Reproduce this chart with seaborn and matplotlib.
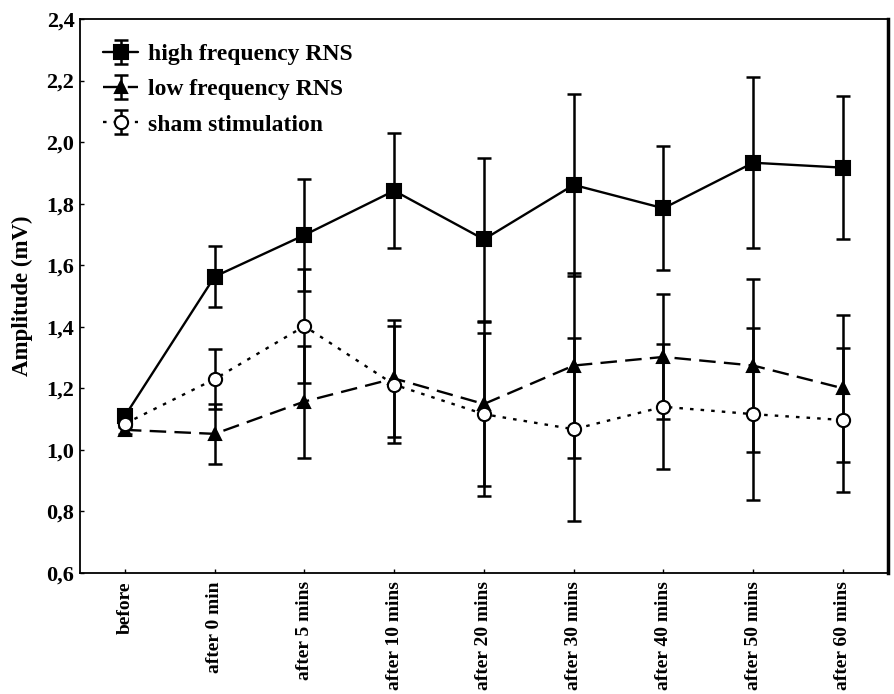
import matplotlib

matplotlib.use("Agg")
import matplotlib.pyplot as plt
import numpy as np
import pandas as pd
import seaborn as sns
from matplotlib.ticker import FuncFormatter

sns.set_style("ticks")
plt.rcParams["font.family"] = ["Liberation Serif", "DejaVu Serif"]
plt.rcParams["font.weight"] = "bold"
plt.rcParams["text.color"] = "black"
plt.rcParams["axes.labelcolor"] = "black"
plt.rcParams["xtick.color"] = "black"
plt.rcParams["ytick.color"] = "black"

timepoints = [
    "before",
    "after 0 min",
    "after 5 mins",
    "after 10 mins",
    "after 20 mins",
    "after 30 mins",
    "after 40 mins",
    "after 50 mins",
    "after 60 mins",
]
groups = ["high frequency RNS", "low frequency RNS", "sham stimulation"]

high_mean = [1.11, 1.563, 1.698, 1.842, 1.684, 1.861, 1.785, 1.933, 1.917]
high_err = [0.015, 0.098, 0.183, 0.186, 0.265, 0.295, 0.202, 0.277, 0.233]
low_mean = [1.065, 1.052, 1.157, 1.232, 1.149, 1.274, 1.302, 1.274, 1.200]
low_err = [0.012, 0.098, 0.182, 0.19, 0.268, 0.30, 0.203, 0.28, 0.238]
sham_mean = [1.085, 1.230, 1.402, 1.212, 1.116, 1.067, 1.140, 1.116, 1.097]
sham_err = [0.012, 0.098, 0.185, 0.19, 0.265, 0.297, 0.203, 0.279, 0.234]

df = pd.DataFrame(
    {
        "time": timepoints * 3,
        "group": np.repeat(groups, len(timepoints)),
        "amplitude": high_mean + low_mean + sham_mean,
        "err": high_err + low_err + sham_err,
    }
)
df["pos"] = df["time"].map({t: i for i, t in enumerate(timepoints)})

styles = {
    "high frequency RNS": dict(ls="-", marker="s", mfc="black", ms=9.5),
    "low frequency RNS": dict(ls=(0, (7, 3.5)), marker="^", mfc="black", ms=9),
    "sham stimulation": dict(ls=(0, (1.5, 3)), marker="o", mfc="white", ms=9.5),
}

fig = plt.figure(figsize=(8.95, 6.94), dpi=100)
ax = fig.add_axes([0.0894, 0.1744, 0.9026, 0.7982])

handles = []
for group in groups:
    sub = df[df["group"] == group]
    st = styles[group]
    sns.lineplot(
        data=sub,
        x="pos",
        y="amplitude",
        ax=ax,
        color="black",
        linewidth=1.7,
        linestyle=st["ls"],
        marker=st["marker"],
        markersize=st["ms"],
        markerfacecolor=st["mfc"],
        markeredgecolor="black",
        markeredgewidth=1.5,
        legend=False,
        zorder=3,
    )
    line = ax.lines[-1]
    eb = ax.errorbar(
        sub["pos"],
        sub["amplitude"],
        yerr=sub["err"],
        fmt="none",
        ecolor="black",
        elinewidth=1.8,
        capsize=5,
        capthick=1.8,
        zorder=2,
    )
    handles.append((eb, line))

ax.set_xlim(-0.5, 8.5)
ax.set_ylim(0.6, 2.4)
ax.set_xticks(range(len(timepoints)))
ax.set_xticklabels(timepoints, rotation=90, fontsize=14, fontweight="bold")
ax.set_yticks(np.arange(0.6, 2.41, 0.2))
ax.yaxis.set_major_formatter(FuncFormatter(lambda v, p: f"{v:.1f}".replace(".", ",")))
for lab in ax.get_yticklabels():
    lab.set_fontsize(16)
    lab.set_fontweight("bold")
ax.tick_params(axis="both", direction="in", length=3, width=1, colors="black")
ax.tick_params(axis="y", pad=4)
ax.tick_params(axis="x", pad=6)
ax.set_xlabel("")
ax.set_ylabel("Amplitude (mV)", fontsize=16.5, fontweight="bold", labelpad=10, color="black")
for sp in ax.spines.values():
    sp.set_visible(True)
    sp.set_color("black")
    sp.set_linewidth(1.3)
ax.spines["right"].set_linewidth(2.5)

leg = ax.legend(
    handles,
    groups,
    loc="upper left",
    bbox_to_anchor=(0.002, 0.994),
    frameon=False,
    prop={"size": 17, "weight": "bold"},
    handlelength=1.5,
    handletextpad=0.4,
    labelspacing=0.58,
)
for t in leg.get_texts():
    t.set_color("black")

fig.savefig("out.png", dpi=100)
